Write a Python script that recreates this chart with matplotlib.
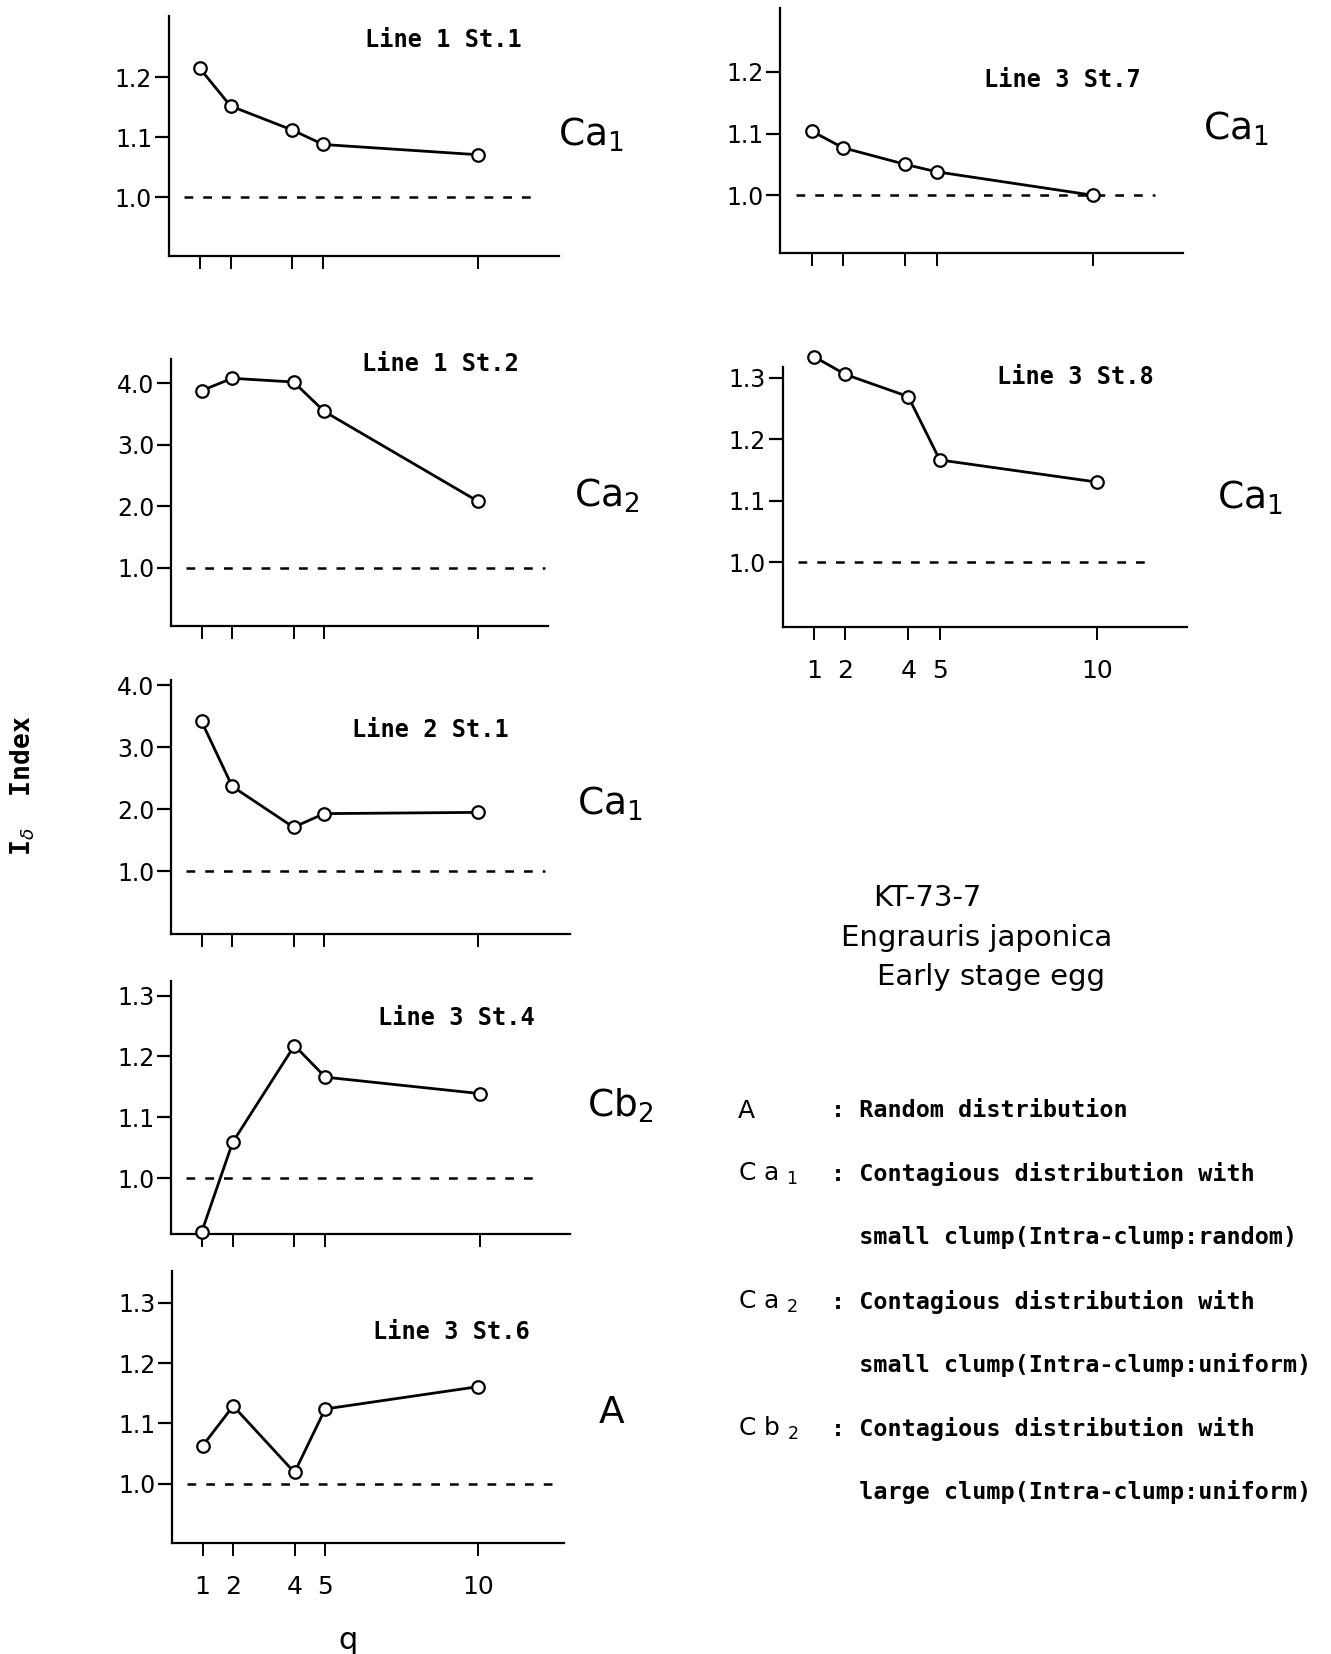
import matplotlib
matplotlib.use('Agg')
import matplotlib.pyplot as plt

# data
q = [1, 2, 4, 5, 10]
q_labels = ['1', '2', '4', '5', '10']

l1s1 = [1.215, 1.152, 1.112, 1.088, 1.071]
l1s2 = [3.88, 4.08, 4.02, 3.54, 2.08]
l2s1 = [3.42, 2.37, 1.71, 1.93, 1.95]
l3s4 = [0.912, 1.059, 1.218, 1.166, 1.139]
l3s6 = [1.063, 1.129, 1.019, 1.124, 1.161]
l3s7 = [1.104, 1.077, 1.050, 1.038, 1.000]
l3s8 = [1.334, 1.305, 1.269, 1.166, 1.130]

ticks_small = [1.0, 1.1, 1.2]
ticks_small3 = [1.0, 1.1, 1.2, 1.3]
ticks_big = [1.0, 2.0, 3.0, 4.0]

W, H = 1262.0, 1568.0   # reference coordinates used for placing things
fig = plt.figure(figsize=(13.31, 16.54), dpi=100)

mono = ['DejaVu Sans Mono']

def box(left, top, right, bottom):
    return [left / W, 1 - bottom / H, (right - left) / W, (bottom - top) / H]

def put(x, y, s, **kw):
    fig.text(x / W, 1 - y / H, s, **kw)

# panel: (values, rect, xmax, dash end, ylim, yticks, x labels, title, title pos, class, class pos)
panels = [
    (l1s1, box(160, 15, 530, 243), 12.63, 11.9, (0.902, 1.302), ticks_small, False,
     'Line 1 St.1', (420, 38), 'Ca$_1$', (560, 128)),
    (l1s2, box(162, 340, 520, 593), 12.3, 12.2, (0.057, 4.40), ticks_big, False,
     'Line 1 St.2', (418, 345), 'Ca$_2$', (575, 470)),
    (l2s1, box(162, 645, 540, 885), 13.0, 12.2, (-0.005, 4.08), ticks_big, False,
     'Line 2 St.1', (408, 692), 'Ca$_1$', (578, 762)),
    (l3s4, box(162, 930, 540, 1170), 12.9, 12.0, (0.908, 1.324), ticks_small3, False,
     'Line 3 St.4', (433, 965), 'Cb$_2$', (588, 1048)),
    (l3s6, box(163, 1205, 535, 1463), 12.8, 12.4, (0.902, 1.352), ticks_small3, True,
     'Line 3 St.6', (428, 1263), 'A', (580, 1340)),
    (l3s7, box(740, 8, 1122, 240), 12.9, 12.0, (0.906, 1.303), ticks_small, False,
     'Line 3 St.7', (1007, 76), 'Ca$_1$', (1172, 122)),
    (l3s8, box(742, 348, 1125, 594), 12.85, 11.7, (0.895, 1.317), ticks_small3, True,
     'Line 3 St.8', (1020, 357), 'Ca$_1$', (1185, 472)),
]

for vals, rect, xmax, dash_end, ylim, yt, xlab, title, tpos, cls, cpos in panels:
    ax = fig.add_axes(rect)
    ax.hlines(1.0, 0.5, dash_end, colors='black', linewidth=1.8,
              linestyles=(0, (3.5, 4.0)))
    ax.plot(q, vals, color='black', linewidth=2.0, marker='o', markersize=9,
            markerfacecolor='white', markeredgecolor='black',
            markeredgewidth=1.6, clip_on=False, zorder=3)
    ax.set_xlim(0, xmax)
    ax.set_ylim(*ylim)
    ax.spines['top'].set_visible(False)
    ax.spines['right'].set_visible(False)
    ax.spines['left'].set_linewidth(1.6)
    ax.spines['bottom'].set_linewidth(1.6)
    ax.set_yticks(yt)
    ax.set_yticklabels(['%.1f' % t for t in yt], fontsize=17)
    ax.set_xticks(q)
    if xlab:
        ax.set_xticklabels(q_labels, fontsize=18)
    else:
        ax.set_xticklabels([])
    ax.tick_params(axis='y', direction='out', length=10, width=1.6, pad=2)
    ax.tick_params(axis='x', direction='out', length=9, width=1.4, pad=14)
    put(tpos[0], tpos[1], title, family=mono, fontsize=17, ha='center',
        va='center', fontweight='bold')
    put(cpos[0], cpos[1], cls, fontsize=27, ha='center', va='center')

# axis titles
put(330, 1555, 'q', fontsize=22, ha='center', va='center')
put(22, 745, r'I$_\delta$  Index', family=mono, fontsize=19, rotation=90,
    ha='center', va='center', fontweight='bold')

# species block
put(828, 851, 'KT-73-7', fontsize=21, ha='left', va='center')
put(797, 889, 'Engrauris japonica', fontsize=21, ha='left', va='center')
put(832, 926, 'Early stage egg', fontsize=21, ha='left', va='center')

# legend of distribution types
codes = ['A', 'C a $_1$', '', 'C a $_2$', '', 'C b $_2$', '']
lines = [': Random distribution',
         ': Contagious distribution with',
         '  small clump(Intra-clump:random)',
         ': Contagious distribution with',
         '  small clump(Intra-clump:uniform)',
         ': Contagious distribution with',
         '  large clump(Intra-clump:uniform)']
for i, (c, s) in enumerate(zip(codes, lines)):
    y = 1053 + i * 60.3
    if c:
        put(700, y, c, fontsize=18, ha='left', va='center')
    put(788, y, s, family=mono, fontsize=16.8, ha='left', va='center',
        fontweight='bold')

fig.savefig('out.png', dpi=100)
